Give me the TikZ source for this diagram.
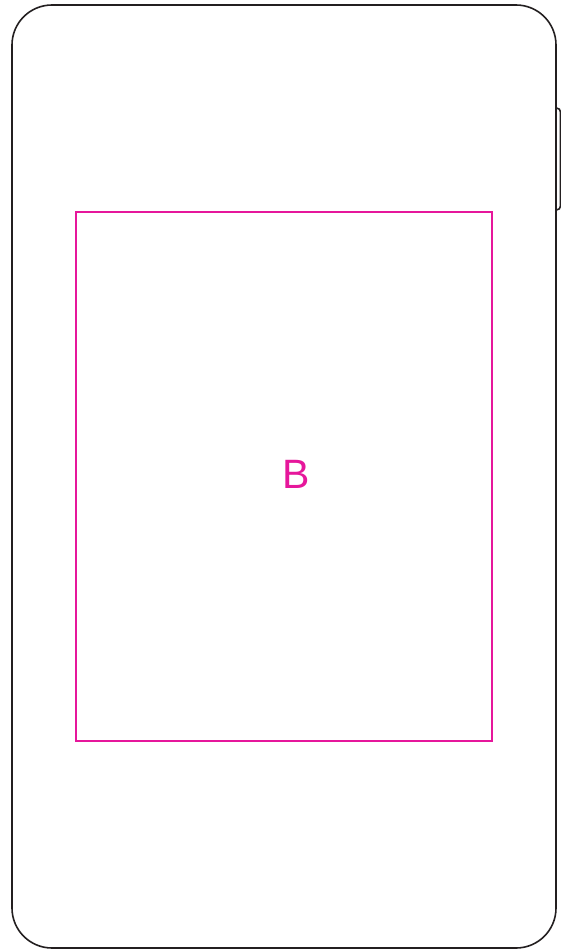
\documentclass[tikz,border=0pt]{standalone}
\usepackage{fontspec}
\setmainfont{Liberation Sans}
\definecolor{pinkc}{HTML}{E6179B}
\definecolor{linec}{HTML}{231F20}
\begin{document}
\begin{tikzpicture}[x=1pt,y=-1pt,
  phone/.style={draw=linec,line width=1.6pt},
  screen/.style={draw=pinkc,line width=2.2pt}]
\useasboundingbox (0,0) rectangle (561,950);
\draw[phone,rounded corners=4pt] (556,108) -- (560.5,108) -- (560.5,210) -- (556,210);
\draw[phone,rounded corners=40pt,fill=white] (12,5) rectangle (556,948);
\node[screen,minimum width=416pt,minimum height=529pt,inner sep=0pt] (scr) at (284,476.5) {};
\node[text=pinkc,font=\fontsize{41}{41}\selectfont,inner sep=0pt] (lbl) at (296,474) {B};
\end{tikzpicture}
\end{document}
